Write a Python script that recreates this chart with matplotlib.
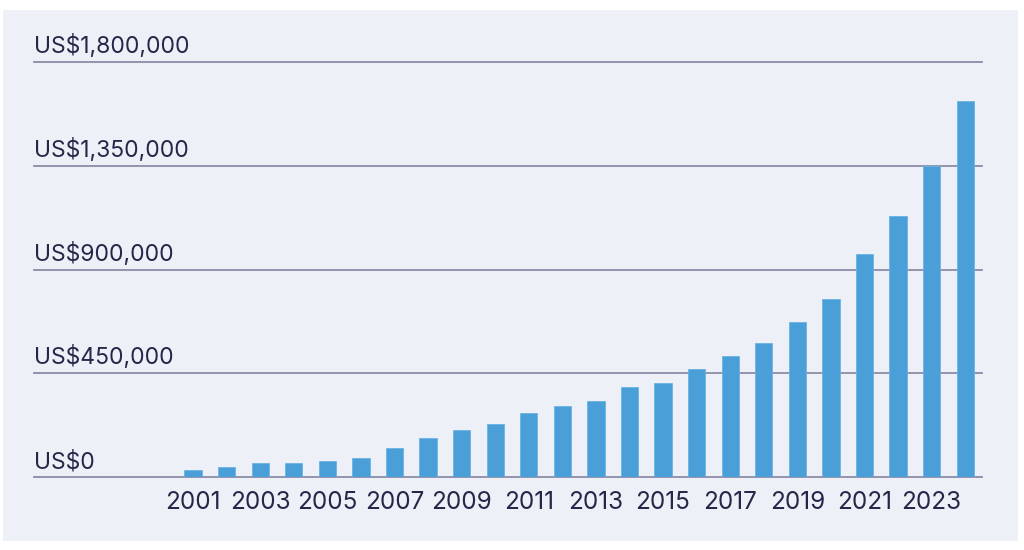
import matplotlib

matplotlib.use("Agg")
import matplotlib.pyplot as plt
from matplotlib.patches import Rectangle

# ── data ─────────────────────────────────────────────────────────────────────
years = list(range(2001, 2025))
values = [
    33000, 43000, 62000, 62000, 72000, 85000, 126000, 172000,
    203000, 233000, 279000, 307000, 331000, 393000, 408000, 469000,
    527000, 583000, 673000, 774000, 969000, 1133000, 1350000, 1633000,
]
y_ticks = [0, 450000, 900000, 1350000, 1800000]
y_tick_labels = ["US$0", "US$450,000", "US$900,000", "US$1,350,000", "US$1,800,000"]

PANEL = "#edf0f6"
BAR = "#4a9fd8"
GRID = "#8c8ca8"
TEXT = "#262649"
W, H = 1024, 550

plt.rcParams["font.family"] = ["Inter", "DejaVu Sans"]

fig = plt.figure(figsize=(W / 100, H / 100), dpi=100)
fig.patch.set_facecolor("white")
fig.add_artist(
    Rectangle((3 / W, 1 - 541 / H), (1018 - 3) / W, (541 - 10) / H,
              transform=fig.transFigure, facecolor=PANEL, edgecolor="none", zorder=-10)
)

# axes box: x 34..982 px, y 62..477 px
ax = fig.add_axes([34 / W, 1 - 477.3 / H, (982 - 34) / W, (477.3 - 62) / H])
ax.set_facecolor("none")
for spine in ax.spines.values():
    spine.set_visible(False)

pos = list(range(len(years)))
ax.bar(pos, values, width=0.515, color=BAR, edgecolor="#6bb3e3", linewidth=0.6, zorder=3)

ax.set_xlim(-4.736, 23.5)
ax.set_ylim(0, 1800000)

for v, lab in zip(y_ticks, y_tick_labels):
    ax.axhline(v, color=GRID, linewidth=1.3, zorder=2, clip_on=False)
    ax.annotate(lab, xy=(0, v), xycoords=("axes fraction", "data"),
                xytext=(0, 4), textcoords="offset pixels",
                ha="left", va="bottom", fontsize=16.5, color=TEXT)

ax.set_yticks([])
ax.set_xticks(pos[::2])
ax.set_xticklabels([str(y) for y in years[::2]], fontsize=17.5, color=TEXT)
ax.tick_params(axis="x", length=0, pad=10)

fig.savefig("out.png", dpi=100, facecolor="white")
